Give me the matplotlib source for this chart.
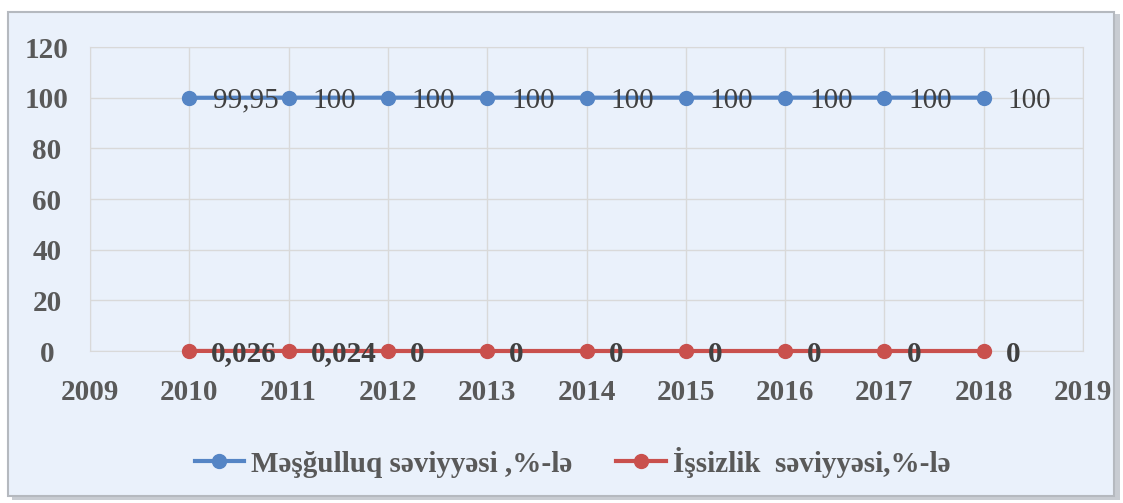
import matplotlib.pyplot as plt
from matplotlib.patches import Rectangle
from matplotlib.lines import Line2D

years = [2010, 2011, 2012, 2013, 2014, 2015, 2016, 2017, 2018]
employment = [99.95, 100, 100, 100, 100, 100, 100, 100, 100]
employment_labels = ['99,95', '100', '100', '100', '100', '100', '100', '100', '100']
unemployment = [0.026, 0.024, 0, 0, 0, 0, 0, 0, 0]
unemployment_labels = ['0,026', '0,024', '0', '0', '0', '0', '0', '0', '0']
legend_names = ['Məşğulluq səviyyəsi ,%-lə', 'İşsizlik  səviyyəsi,%-lə']

blue = '#5585C5'
red = '#C9504D'
txt = '#595959'
serif = ['Liberation Serif', 'DejaVu Serif']

fig = plt.figure(figsize=(11.23, 5.03), dpi=100)
fig.patch.set_facecolor('white')

# chart frame with soft shadow
fig.patches.append(Rectangle((12 / 1123, 3 / 503), 1108 / 1123, 486 / 503, transform=fig.transFigure,
                             facecolor='#C8CCD2', edgecolor='none', zorder=-3))
fig.patches.append(Rectangle((8 / 1123, 7 / 503), 1106 / 1123, 484 / 503, transform=fig.transFigure,
                             facecolor='#EAF1FB', edgecolor='#B5B9BF', linewidth=1.5, zorder=-2))

ax = fig.add_axes([90 / 1123, 152 / 503, 993 / 1123, 304 / 503])
ax.set_facecolor('#EAF1FB')
ax.plot(years, employment, color=blue, linewidth=3, marker='o', markersize=10, zorder=3, clip_on=False)
ax.plot(years, unemployment, color=red, linewidth=3, marker='o', markersize=10, zorder=3, clip_on=False)

for x, y, s in zip(years, employment, employment_labels):
    ax.annotate(s, (x, y), xytext=(24, -3), textcoords='offset pixels', ha='left', va='center',
                fontsize=21, color='#404040', family=serif, zorder=4)
for x, y, s in zip(years, unemployment, unemployment_labels):
    ax.annotate(s, (x, y), xytext=(22, -3), textcoords='offset pixels', ha='left', va='center',
                fontsize=21, fontweight='bold', color='#404040', family=serif, zorder=4,
                annotation_clip=False)

ax.set_xlim(2009, 2019)
ax.set_ylim(0, 120)
ax.set_xticks(range(2009, 2020))
ax.set_yticks(range(0, 121, 20))
ax.grid(True, color='#D9D9D9', linewidth=1)
ax.set_axisbelow(True)
for sp in ax.spines.values():
    sp.set_color('#D9D9D9')
ax.tick_params(length=0, labelsize=21, labelcolor=txt)
ax.tick_params(axis='x', pad=20)
ax.tick_params(axis='y', pad=31)
for lab in ax.get_xticklabels() + ax.get_yticklabels():
    lab.set_family(serif)
    lab.set_fontweight('bold')
for lab in ax.get_yticklabels():
    lab.set_horizontalalignment('center')

handles = [Line2D([], [], color=blue, linewidth=3, marker='o', markersize=10),
           Line2D([], [], color=red, linewidth=3, marker='o', markersize=10)]
fig.legend(handles, legend_names, loc='center', bbox_to_anchor=(0.51, 41 / 503), ncol=2, frameon=False,
           prop={'family': serif, 'weight': 'bold', 'size': 21}, labelcolor=txt,
           handlelength=1.7, handletextpad=0.25, columnspacing=1.5)

fig.savefig('out.png', dpi=100)
